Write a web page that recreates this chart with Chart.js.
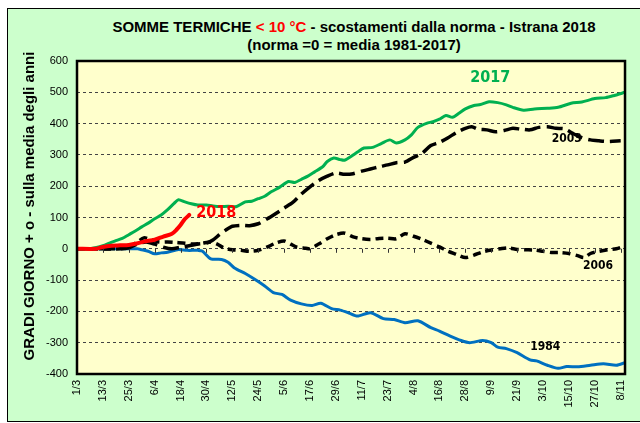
<!DOCTYPE html>
<html>
<head>
<meta charset="utf-8">
<script src="https://cdn.jsdelivr.net/npm/chart.js@4.4.1/dist/chart.umd.min.js"></script>
<style>
  html, body { margin: 0; padding: 0; background: #fff; }
  body { width: 640px; height: 423px; position: relative; overflow: hidden; font-family: "Liberation Sans", Arial, sans-serif; }
  #frame { position: absolute; left: 7px; top: 8px; width: 660px; height: 412px; background: #ccffcc; border: 1px solid #000; }
  #title { position: absolute; left: 0; top: 18px; width: 708px; text-align: center; font-weight: bold; font-size: 15px; line-height: 18px; color: #000; }
  #title .red { color: #ff0000; }
  canvas { position: absolute; left: 0; top: 0; }
</style>
</head>
<body>
<div id="frame"></div>
<div id="title">SOMME TERMICHE <span class="red">&lt; 10 °C</span> - scostamenti dalla norma - Istrana 2018<br>(norma =0 = media 1981-2017)</div>
<canvas id="chart" width="640" height="423"></canvas>
<script>
// Somme termiche < 10 °C, scostamenti dalla norma (giorni dal 1/3)
const tickLabels = ['1/3', '13/3', '25/3', '6/4', '18/4', '30/4', '12/5', '24/5', '5/6', '17/6', '29/6',
  '11/7', '23/7', '4/8', '16/8', '28/8', '9/9', '21/9', '3/10', '15/10', '27/10', '8/11'];

const days2018 = [0, 9, 12, 16, 20, 24, 27, 31, 36, 40, 44, 46, 48, 50, 52];
const vals2018 = [0, 0, 6, 10, 11, 12, 16, 23, 29, 39, 48, 60, 76, 95, 108];

const days2017 = [0, 6, 9, 12, 15, 18, 21, 24, 27, 30, 33, 36, 39, 42, 45, 47, 50, 53, 56, 60,
  63, 66, 70, 74, 78, 81, 84, 87, 90, 94, 98, 101, 104, 107, 110, 114, 116, 119, 122, 124,
  127, 130, 133, 137, 141, 145, 148, 152, 155, 158, 162, 165, 168, 171, 174, 177, 180, 184, 187, 191,
  195, 199, 202, 207, 212, 218, 223, 229, 234, 240, 245, 249, 254];
const vals2017 = [0, 0, 4, 10, 18, 26, 33, 45, 57, 70, 82, 96, 108, 125, 145, 157, 150, 144, 140, 140,
  137, 135, 136, 135, 150, 152, 160, 168, 182, 197, 215, 212, 222, 232, 245, 263, 279, 290, 285, 283,
  295, 309, 322, 324, 336, 348, 338, 348, 364, 388, 401, 406, 414, 426, 420, 433, 447, 458, 461, 470,
  467, 460, 452, 443, 447, 449, 452, 465, 469, 480, 483, 490, 500];

const days2003 = [0, 20, 24, 28, 32, 36, 40, 44, 48, 52, 56, 60, 63, 66, 69, 72, 76, 80, 84, 88,
  92, 96, 100, 104, 108, 112, 116, 120, 124, 128, 132, 136, 140, 144, 148, 152, 156, 160, 164, 168,
  172, 176, 180, 183, 186, 190, 194, 198, 202, 206, 210, 214, 218, 222, 226, 230, 234, 238, 242, 246, 252];
const vals2003 = [0, 0, 3, 15, 22, 15, 5, 0, 5, 10, 15, 18, 28, 45, 60, 72, 75, 74, 80, 95,
  112, 130, 148, 175, 198, 218, 232, 242, 238, 240, 248, 255, 262, 268, 275, 277, 292, 305, 330, 340,
  355, 372, 385, 390, 382, 380, 374, 378, 385, 382, 380, 388, 390, 385, 383, 368, 355, 348, 345, 343, 345];

const days2006 = [0, 20, 24, 28, 31, 34, 38, 42, 46, 50, 54, 58, 62, 65, 68, 72, 76, 80, 84, 88,
  92, 96, 99, 102, 106, 108, 112, 116, 120, 124, 128, 132, 136, 140, 144, 148, 152, 156, 160, 164,
  168, 172, 176, 180, 184, 188, 192, 196, 200, 204, 208, 212, 216, 220, 224, 228, 232, 235, 238, 242,
  246, 250, 254];
const vals2006 = [0, 0, 5, 22, 35, 30, 22, 22, 20, 18, 15, 18, 22, 15, 3, -3, -5, -8, -5, 5,
  18, 25, 15, 5, 2, 0, 15, 32, 45, 50, 38, 32, 30, 33, 34, 32, 48, 40, 30, 18,
  6, -8, -18, -28, -20, -10, -4, 0, 3, -2, -3, -4, -8, -12, -12, -15, -22, -28, -15, -8,
  -3, 0, 10];

const days1984 = [0, 28, 30, 33, 36, 39, 42, 47, 51, 56, 58, 62, 67, 70, 73, 78, 82, 87, 91, 95,
  99, 104, 109, 113, 118, 122, 126, 130, 136, 142, 147, 152, 158, 164, 168, 173, 178, 182, 188, 192,
  195, 199, 204, 210, 213, 218, 223, 227, 232, 238, 244, 250, 254];
const vals1984 = [0, 0, -3, -8, -16, -13, -11, -2, -5, -5, -7, -32, -34, -43, -61, -79, -96, -119, -140, -146,
  -164, -176, -181, -174, -191, -196, -205, -215, -204, -223, -226, -236, -230, -252, -263, -279, -293, -300, -293, -300,
  -314, -319, -332, -355, -358, -372, -382, -376, -377, -372, -367, -372, -364];

function points(days, vals) {
  return days.map((d, i) => ({ x: d, y: vals[i] }));
}

// year labels placed in data coordinates
const seriesTags = [
  { text: '2018', day: 64.5, value: 116, color: '#ff0000', size: 16 },
  { text: '2017', day: 191.5, value: 546, color: '#00b050', size: 16 },
  { text: '2003', day: 227, value: 350, color: '#000', size: 12 },
  { text: '2006', day: 241.5, value: -56, color: '#000', size: 12 },
  { text: '1984', day: 217, value: -313, color: '#000', size: 12 }
];

const decorations = {
  id: 'decorations',
  beforeDraw(chart) {
    const { ctx, chartArea: a } = chart;
    ctx.save();
    ctx.fillStyle = '#ffffcc';
    ctx.fillRect(a.left, a.top, a.right - a.left, a.bottom - a.top);
    ctx.restore();
  },
  afterDraw(chart) {
    const { ctx, chartArea: a, scales } = chart;
    const x = scales.x, y = scales.y;
    ctx.save();

    // tick marks on the zero line
    const y0 = y.getPixelForValue(0);
    ctx.strokeStyle = '#333';
    ctx.lineWidth = 1;
    x.ticks.forEach(t => {
      const px = Math.round(x.getPixelForValue(t.value)) + 0.5;
      ctx.beginPath();
      ctx.moveTo(px, y0);
      ctx.lineTo(px, y0 + 4);
      ctx.stroke();
    });

    // plot frame
    ctx.strokeStyle = '#000';
    ctx.lineWidth = 2.5;
    ctx.strokeRect(a.left, a.top, a.right - a.left, a.bottom - a.top);

    // year tags
    ctx.textAlign = 'center';
    ctx.textBaseline = 'middle';
    seriesTags.forEach(tag => {
      ctx.font = `bold ${tag.size}px "DejaVu Sans Condensed", "DejaVu Sans", sans-serif`;
      ctx.fillStyle = tag.color;
      ctx.fillText(tag.text, x.getPixelForValue(tag.day), y.getPixelForValue(tag.value));
    });

    // y axis title
    ctx.translate(30, 206);
    ctx.rotate(-Math.PI / 2);
    ctx.font = 'bold 15px "Liberation Sans", Arial, sans-serif';
    ctx.fillStyle = '#000';
    ctx.fillText('GRADI GIORNO + o - sulla media degli anni', 0, 0);
    ctx.restore();
  }
};

function lineDataset(label, days, vals, color, width, dash) {
  return {
    label,
    data: points(days, vals),
    borderColor: color,
    backgroundColor: color,
    borderWidth: width,
    borderDash: dash || [],
    borderCapStyle: dash ? 'butt' : 'round',
    pointRadius: 0,
    tension: 0.25,
    fill: false
  };
}

new Chart(document.getElementById('chart'), {
  type: 'line',
  data: {
    datasets: [
      lineDataset('2018', days2018, vals2018, '#ff0000', 4),
      lineDataset('2017', days2017, vals2017, '#00b050', 3),
      lineDataset('2003', days2003, vals2003, '#000', 3.5, [16, 6]),
      lineDataset('2006', days2006, vals2006, '#000', 3.5, [8, 5]),
      lineDataset('1984', days1984, vals1984, '#0070c0', 3)
    ]
  },
  options: {
    responsive: false,
    animation: false,
    layout: { padding: { left: 0, top: 61, right: 13, bottom: 0 } },
    plugins: {
      legend: { display: false },
      tooltip: { enabled: false }
    },
    scales: {
      x: {
        type: 'linear',
        min: 0,
        max: 254,
        afterFit: (scale) => { scale.height = 49; },
        grid: { display: false, drawTicks: false },
        border: { display: false },
        ticks: {
          stepSize: 12,
          includeBounds: false,
          autoSkip: false,
          minRotation: 90,
          maxRotation: 90,
          padding: 6,
          color: '#000',
          font: { family: '"Liberation Sans", Arial, sans-serif', size: 11 },
          callback: (value) => tickLabels[value / 12]
        }
      },
      y: {
        min: -400,
        max: 600,
        afterFit: (scale) => { scale.width = 77; },
        grid: { color: '#444', lineWidth: 1, drawTicks: false },
        border: { display: false, dash: [3, 3] },
        ticks: {
          stepSize: 100,
          padding: 9,
          color: '#000',
          font: { family: '"Liberation Sans", Arial, sans-serif', size: 11 }
        }
      }
    }
  },
  plugins: [decorations]
});
</script>
</body>
</html>
